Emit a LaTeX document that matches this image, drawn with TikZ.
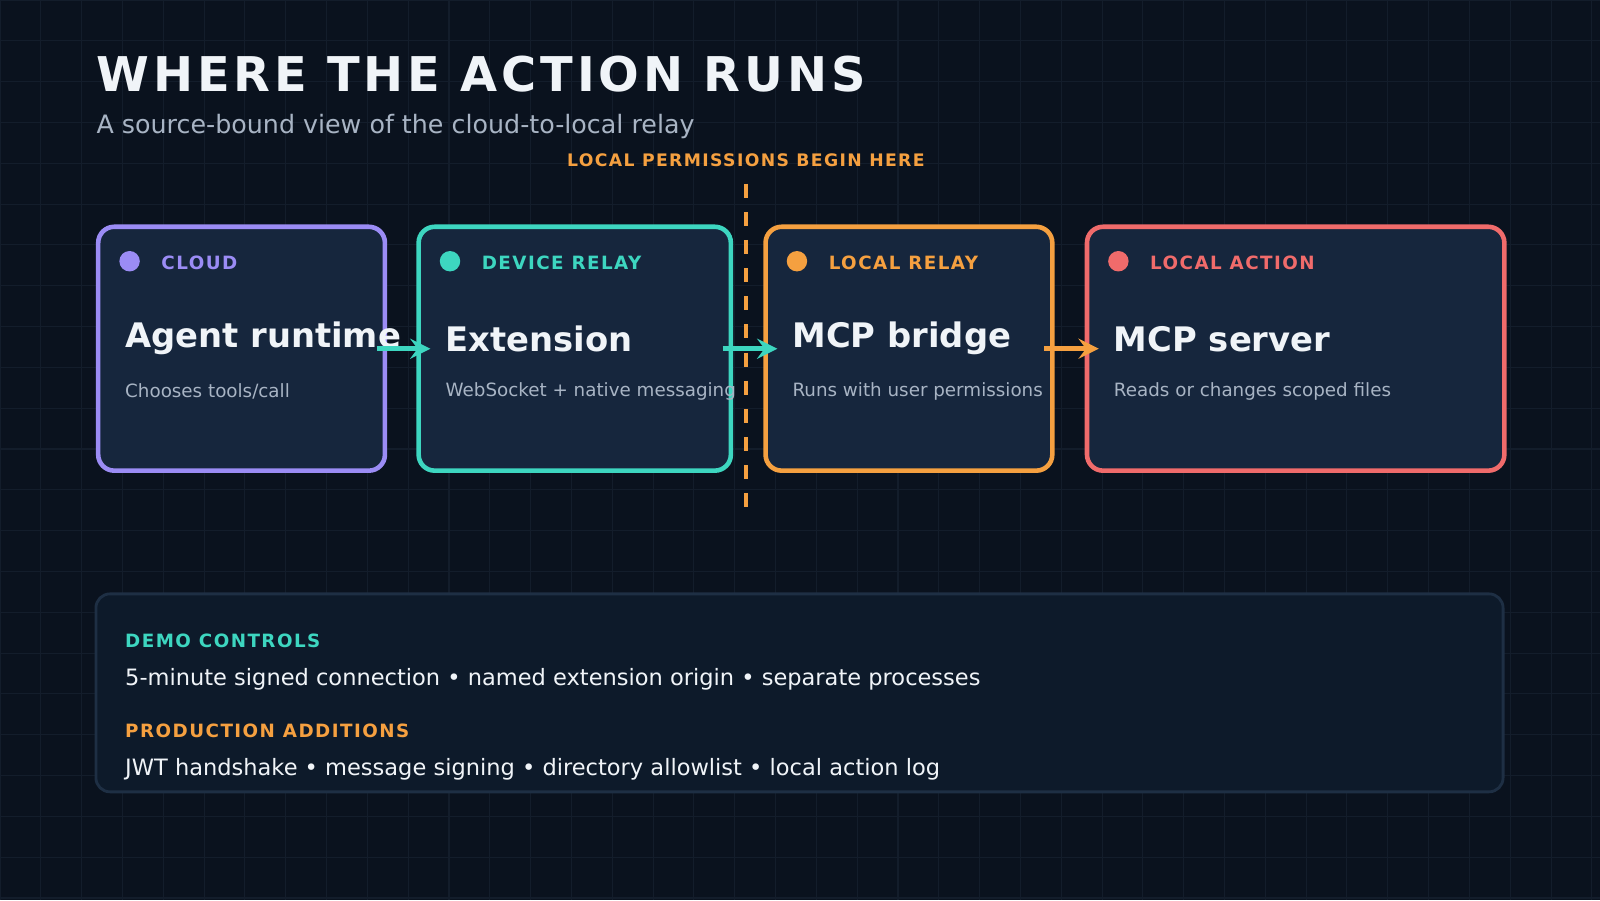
\documentclass[tikz,border=0pt]{standalone}
\usepackage{fontspec}
\setmainfont{DejaVu Sans}
\usetikzlibrary{positioning}
\definecolor{bgColor}{HTML}{0A121E}
\definecolor{gridColor}{HTML}{131D2B}
\definecolor{boxFill}{HTML}{16263D}
\definecolor{panelFill}{HTML}{0D1A2A}
\definecolor{panelLine}{HTML}{1E2F44}
\definecolor{cloudColor}{HTML}{9B8CF5}
\definecolor{relayColor}{HTML}{3DD6C0}
\definecolor{localColor}{HTML}{F5A040}
\definecolor{actionColor}{HTML}{F06B6B}
\definecolor{mainText}{HTML}{F0F4F8}
\definecolor{subText}{HTML}{A8B4C4}
\tikzstyle{stageBox} = [draw, line width=1.3pt, fill=boxFill, rounded corners=.16cm, anchor=north west, minimum height=239*0.0102cm, inner sep=0]
\tikzstyle{stageTag} = [font=\fontsize{5.2}{6}\selectfont\bfseries, anchor=west]
\tikzstyle{stageTitle} = [font=\fontsize{9.6}{11}\selectfont\bfseries, text=mainText, anchor=west, inner sep=0]
\tikzstyle{stageNote} = [font=\fontsize{5.2}{6}\selectfont, text=subText, anchor=west, inner sep=0]
\tikzstyle{flowArrow} = [-stealth, line width=1.5pt, shorten <=-3pt, shorten >=-4pt]
\tikzstyle{panelHead} = [font=\fontsize{5.2}{6}\selectfont\bfseries, anchor=west, inner sep=0]
\tikzstyle{panelText} = [font=\fontsize{6.4}{8}\selectfont, text=mainText, anchor=west, inner sep=0]
\newcommand{\stage}[7]{
  \node [stageBox, draw=#3, minimum width=#5*0.0102cm] (#1) at (#4,220) {};
  \fill [#3] (#4+33,256) circle (0.102cm);
  \node [stageTag, text=#3] at (#4+52,258) {\addfontfeature{LetterSpace=8}#2};
  \node [stageTitle] (#1Title) at (#4+28,332) {#6};
  \node [stageNote] (#1Note) at (#4+28,384) {#7};
}
\begin{document}
\begin{tikzpicture}[x=0.0102cm, y=-0.0102cm]
  \fill [bgColor] (0,0) rectangle (1568,882);
  \useasboundingbox (0,0) rectangle (1568,882);
  \foreach \g in {0,40,...,1560} {
    \draw [gridColor, line width=.3pt] (\g,0) -- (\g,882);
  }
  \foreach \g in {0,40,...,880} {
    \draw [gridColor, line width=.3pt] (0,\g) -- (1568,\g);
  }
  % heading
  \node [anchor=west, inner sep=0, text=mainText, font=\fontsize{13.6}{16}\selectfont\bfseries] (heading) at (94,73) {\addfontfeature{LetterSpace=8}WHERE THE ACTION RUNS};
  \node [anchor=west, inner sep=0, text=subText, font=\fontsize{7.2}{9}\selectfont] (subHeading) at (94,124) {A source-bound view of the cloud-to-local relay};
  % stages
  \stage{cloud}{CLOUD}{cloudColor}{94}{281}{Agent runtime}{Chooses tools/call}
  \stage{device}{DEVICE RELAY}{relayColor}{408}{306}{Extension}{WebSocket + native messaging}
  \stage{bridge}{LOCAL RELAY}{localColor}{748}{281}{MCP bridge}{Runs with user permissions}
  \stage{server}{LOCAL ACTION}{actionColor}{1063}{409}{MCP server}{Reads or changes scoped files}
  \draw [flowArrow, relayColor] (cloud.east) -- (device.west);
  \draw [flowArrow, relayColor] (device.east) -- (bridge.west);
  \draw [flowArrow, localColor] (bridge.east) -- (server.west);
  % boundary
  \coordinate (limitTop) at (731,180);
  \coordinate (limitBottom) at (731,502);
  \draw [localColor, line width=1.2pt, dash pattern=on 4pt off 4pt] (limitTop) -- (limitBottom);
  \node [text=localColor, font=\fontsize{4.9}{6}\selectfont\bfseries] (limitLabel) at (731,157) {\addfontfeature{LetterSpace=8}LOCAL PERMISSIONS BEGIN HERE};
  % controls panel
  \draw [panelLine, fill=panelFill, line width=.8pt, rounded corners=.14cm] (94,582) rectangle (1473,776);
  \node [panelHead, text=relayColor] (demoHead) at (122,628) {\addfontfeature{LetterSpace=8}DEMO CONTROLS};
  \node [panelText] (demoText) at (122,666) {5-minute signed connection • named extension origin • separate processes};
  \node [panelHead, text=localColor] (prodHead) at (122,716) {\addfontfeature{LetterSpace=8}PRODUCTION ADDITIONS};
  \node [panelText] (prodText) at (122,754) {JWT handshake • message signing • directory allowlist • local action log};
\end{tikzpicture}
\end{document}
